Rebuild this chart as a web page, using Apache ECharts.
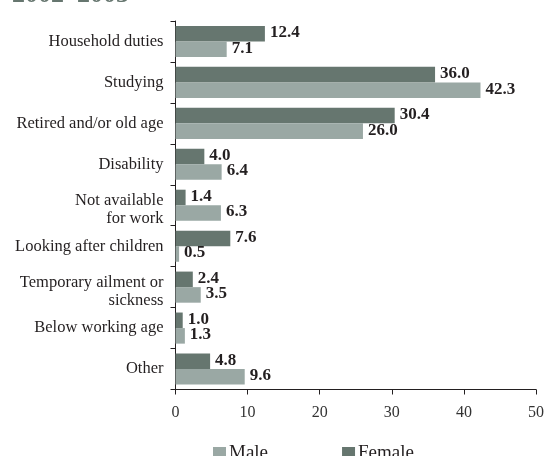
<!DOCTYPE html>
<html>
<head>
<meta charset="utf-8">
<script src="https://cdn.jsdelivr.net/npm/echarts@6/dist/echarts.min.js"></script>
<style>
  html, body { margin: 0; padding: 0; background: #fff; }
  #chart { width: 547px; height: 456px; }
</style>
</head>
<body>
<div id="chart"></div>
<script>
// Reasons for not looking for work, by sex (%), 2002–2003
const categories = [
  'Household duties',
  'Studying',
  'Retired and/or old age',
  'Disability',
  'Not available\nfor work',
  'Looking after children',
  'Temporary ailment or\nsickness',
  'Below working age',
  'Other'
];
const female = [12.4, 36.0, 30.4, 4.0, 1.4, 7.6, 2.4, 1.0, 4.8];
const male = [7.1, 42.3, 26.0, 6.4, 6.3, 0.5, 3.5, 1.3, 9.6];
const xTicks = [0, 10, 20, 30, 40, 50];

const SERIF = '"Liberation Serif", "DejaVu Serif", serif';
const DARK = '#66766f';
const LIGHT = '#9aa8a4';
const INK = '#231f20';

const chart = echarts.init(document.getElementById('chart'), null, { renderer: 'canvas' });

// two-line category names sit a little lower in their band
function categoryFormatter(name) {
  const lines = name.split('\n');
  if (lines.length === 1) return name;
  return '{first|' + lines[0] + '}\n{rest|' + lines.slice(1).join('\n') + '}';
}

const valueLabel = {
  show: true,
  position: 'right',
  distance: 5,
  offset: [0, -1],
  color: INK,
  fontFamily: SERIF,
  fontWeight: 'bold',
  fontSize: 17,
  formatter: p => p.value.toFixed(1)
};

chart.setOption({
  animation: false,
  textStyle: { fontFamily: SERIF },
  graphic: [{
    type: 'text',
    left: 12,
    top: -18,
    style: {
      text: '2002–2003',
      fill: DARK,
      font: 'bold 26px ' + SERIF
    }
  }],
  legend: {
    data: ['Male', 'Female'],
    left: 213,
    top: 444,
    padding: 0,
    itemWidth: 13,
    itemHeight: 13,
    itemGap: 74,
    icon: 'rect',
    textStyle: { color: INK, fontFamily: SERIF, fontSize: 19, padding: [0, 0, 0, -2] }
  },
  grid: { left: 175.5, right: 10, top: 21, bottom: 66.5, containLabel: false },
  xAxis: {
    type: 'value',
    min: xTicks[0],
    max: xTicks[xTicks.length - 1],
    interval: 10,
    axisLine: { show: true, lineStyle: { color: INK, width: 1 } },
    axisTick: { show: true, length: 5, lineStyle: { color: INK } },
    splitLine: { show: false },
    axisLabel: { color: '#333', fontFamily: SERIF, fontSize: 16, margin: 15 }
  },
  yAxis: {
    type: 'category',
    data: categories,
    inverse: true,
    axisLine: { show: true, lineStyle: { color: INK, width: 1 } },
    axisTick: { show: true, length: 5, inside: false, lineStyle: { color: INK } },
    axisLabel: {
      color: INK,
      fontFamily: SERIF,
      fontSize: 16.5,
      margin: 12,
      lineHeight: 17,
      align: 'right',
      formatter: categoryFormatter,
      rich: {
        first: {
          color: INK, fontFamily: SERIF, fontSize: 16.5,
          lineHeight: 17, align: 'right', padding: [8, 0, 0, 0]
        },
        rest: {
          color: INK, fontFamily: SERIF, fontSize: 16.5,
          lineHeight: 17, align: 'right', padding: [10, 0, 0, 0]
        }
      }
    }
  },
  series: [
    {
      name: 'Female',
      type: 'bar',
      data: female,
      barGap: '0%',
      barCategoryGap: '24%',
      itemStyle: { color: DARK },
      label: valueLabel
    },
    {
      name: 'Male',
      type: 'bar',
      data: male,
      barGap: '0%',
      barCategoryGap: '24%',
      itemStyle: { color: LIGHT },
      label: valueLabel
    }
  ]
});
</script>
</body>
</html>
